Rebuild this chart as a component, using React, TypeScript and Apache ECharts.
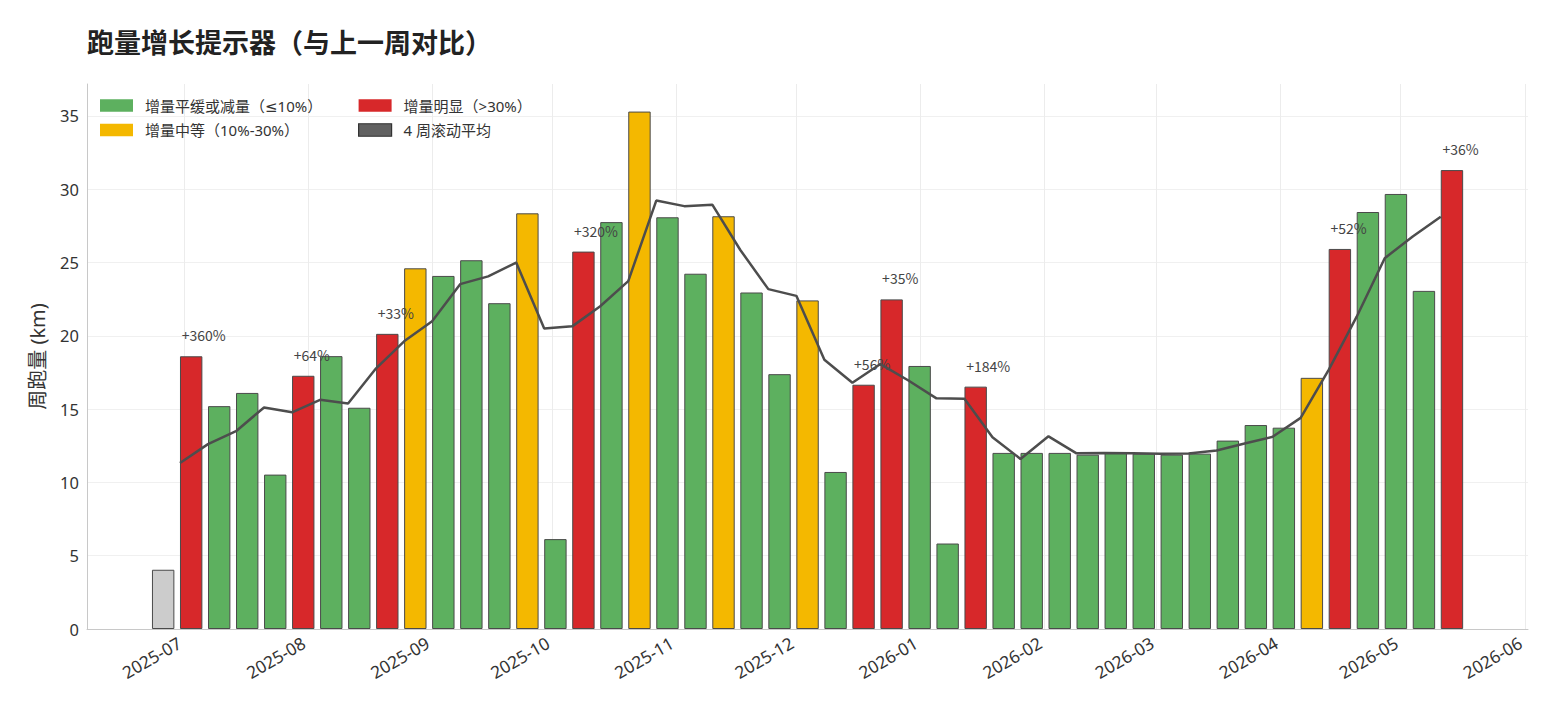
import React, { useEffect, useRef } from 'react';
import * as echarts from 'echarts';

// ---- data ----
const weekStarts = [
  '2025-06-23', '2025-06-30', '2025-07-07', '2025-07-14', '2025-07-21', '2025-07-28',
  '2025-08-04', '2025-08-11', '2025-08-18', '2025-08-25', '2025-09-01', '2025-09-08',
  '2025-09-15', '2025-09-22', '2025-09-29', '2025-10-06', '2025-10-13', '2025-10-20',
  '2025-10-27', '2025-11-03', '2025-11-10', '2025-11-17', '2025-11-24', '2025-12-01',
  '2025-12-08', '2025-12-15', '2025-12-22', '2025-12-29', '2026-01-05', '2026-01-12',
  '2026-01-19', '2026-01-26', '2026-02-02', '2026-02-09', '2026-02-16', '2026-02-23',
  '2026-03-02', '2026-03-09', '2026-03-16', '2026-03-23', '2026-03-30', '2026-04-06',
  '2026-04-13', '2026-04-20', '2026-04-27', '2026-05-04', '2026-05-11',
];

const weeklyKm = [
  4.04, 18.6, 15.2, 16.1, 10.53, 17.27,
  18.61, 15.09, 20.13, 24.6, 24.08, 25.15,
  22.22, 28.35, 6.13, 25.74, 27.75, 35.29,
  28.08, 24.23, 28.15, 22.95, 17.38, 22.41,
  10.71, 16.66, 22.48, 17.94, 5.83, 16.53,
  12.01, 12.01, 12.01, 11.89, 12.07, 11.96,
  11.89, 11.96, 12.85, 13.91, 13.73, 17.13,
  25.92, 28.44, 29.67, 23.06, 31.3,
];

// base = first week (no comparison), low = ≤10%, mid = 10%-30%, high = >30%
const weekClass = [
  'base', 'high', 'low', 'low', 'low', 'high',
  'low', 'low', 'high', 'mid', 'low', 'low',
  'low', 'mid', 'low', 'high', 'low', 'mid',
  'low', 'low', 'mid', 'low', 'low', 'mid',
  'low', 'high', 'high', 'low', 'low', 'high',
  'low', 'low', 'low', 'low', 'low', 'low',
  'low', 'low', 'low', 'low', 'low', 'mid',
  'high', 'low', 'low', 'low', 'high',
];

const growthLabels = [
  '', '+360%', '', '', '', '+64%',
  '', '', '+33%', '', '', '',
  '', '', '', '+320%', '', '',
  '', '', '', '', '', '',
  '', '+56%', '+35%', '', '', '+184%',
  '', '', '', '', '', '',
  '', '', '', '', '', '',
  '+52%', '', '', '', '+36%',
];

const rollingAvg: (number | null)[] = [
  null, 11.32, 12.61, 13.49, 15.11, 14.78,
  15.63, 15.38, 17.78, 19.62, 20.99, 23.52,
  24.05, 24.99, 20.5, 20.64, 22.01, 23.73,
  29.22, 28.84, 28.94, 25.85, 23.18, 22.72,
  18.36, 16.79, 18.07, 16.95, 15.73, 15.7,
  13.08, 11.6, 13.14, 11.98, 12.0, 11.98,
  11.95, 11.97, 12.17, 12.65, 13.11, 14.4,
  17.67, 21.3, 25.29, 26.77, 28.12,
];

const NAME_LOW = '增量平缓或减量（≤10%）';
const NAME_MID = '增量中等（10%-30%）';
const NAME_HIGH = '增量明显（>30%）';
const NAME_AVG = '4 周滚动平均';
const NAME_BASE = '首周';

const TITLE = '跑量增长提示器（与上一周对比）';
const Y_NAME = '周跑量 (km)';

// ---- styles ----
const FONT = '"Noto Sans", "DejaVu Sans", "Noto Sans CJK SC", sans-serif';
const FONT_CJK = '"Noto Sans CJK SC", "Noto Sans", sans-serif';
const COLORS: Record<string, string> = {
  base: '#cccccc',
  low: '#5db05f',
  mid: '#f4b800',
  high: '#d7282a',
};
const DAY = 86400000;
const BAR_SHIFT_DAYS = 2.8;
const X_MIN = Date.UTC(2025, 6, 1) - 24.23 * DAY;
const X_MAX = Date.UTC(2026, 5, 1) + 0.8 * DAY;

const toUTC = (s: string) => {
  const [y, m, d] = s.split('-').map(Number);
  return Date.UTC(y, m - 1, d);
};

export default function App() {
  const ref = useRef<HTMLDivElement>(null);

  useEffect(() => {
    if (!ref.current) return;
    const chart = echarts.init(ref.current, null, { renderer: 'svg' });
    const times = weekStarts.map(toUTC);

    const barItems = (cls: string) =>
      weekStarts
        .map((_, i) => i)
        .filter((i) => weekClass[i] === cls)
        .map((i) => ({
          value: [times[i] + BAR_SHIFT_DAYS * DAY, weeklyKm[i]],
          name: growthLabels[i],
        }));

    const barSeries = (name: string, cls: string, withLabel: boolean) => ({
      name,
      type: 'bar',
      xAxisIndex: 1,
      barWidth: 22.4,
      barGap: '-100%',
      data: barItems(cls),
      itemStyle: { color: COLORS[cls], borderColor: '#4a4a4a', borderWidth: 1 },
      label: withLabel
        ? {
            show: true,
            position: 'top',
            distance: 14,
            align: 'left',
            offset: [-9.5, 0],
            formatter: '{b}',
            fontSize: 14,
            color: '#444',
            fontFamily: FONT_CJK,
          }
        : { show: false },
      emphasis: { disabled: true },
      z: 2,
    });

    const legendText = {
      fontSize: 15,
      color: '#333',
      fontFamily: FONT,
      padding: [0, 0, 0, 7],
    };

    const option: any = {
      animation: false,
      useUTC: true,
      backgroundColor: '#ffffff',
      textStyle: { fontFamily: FONT },
      title: {
        text: TITLE,
        left: 87,
        top: 28,
        padding: 0,
        textStyle: { fontSize: 27, fontWeight: 'bold', color: '#222', fontFamily: FONT_CJK },
      },
      legend: [
        {
          orient: 'vertical',
          left: 100,
          top: 98,
          padding: 0,
          itemWidth: 33,
          itemHeight: 12.5,
          itemGap: 9.5,
          selectedMode: false,
          textStyle: legendText,
          data: [
            { name: NAME_LOW, icon: 'rect', itemStyle: { borderWidth: 0 } },
            { name: NAME_MID, icon: 'rect', itemStyle: { borderWidth: 0 } },
          ],
        },
        {
          orient: 'vertical',
          left: 358,
          top: 98,
          padding: 0,
          itemWidth: 33,
          itemHeight: 12.5,
          itemGap: 9.5,
          selectedMode: false,
          textStyle: legendText,
          data: [
            { name: NAME_HIGH, icon: 'rect', itemStyle: { borderWidth: 0 } },
            {
              name: NAME_AVG,
              icon: 'rect',
              itemStyle: { color: '#616161', borderColor: '#333333', borderWidth: 1.2 },
            },
          ],
        },
      ],
      grid: {
        left: 87,
        right: 30,
        top: 84,
        bottom: 88,
        containLabel: false,
        outerBoundsMode: 'none',
      },
      xAxis: [
        {
          type: 'time',
          min: X_MIN,
          max: X_MAX,
          splitNumber: 12,
          minInterval: 28 * DAY,
          maxInterval: 31 * DAY,
          axisLine: { show: true, lineStyle: { color: '#c8c8c8', width: 1 } },
          axisTick: { show: false },
          axisLabel: {
            formatter: '{yyyy}-{MM}',
            rotate: 30,
            fontSize: 17.2,
            color: '#333',
            margin: 20,
            align: 'right',
            verticalAlign: 'bottom',
            showMinLabel: false,
            showMaxLabel: false,
            hideOverlap: false,
            fontFamily: FONT,
          },
          splitLine: {
            show: true,
            showMinLine: false,
            showMaxLine: false,
            lineStyle: { color: '#ececec', width: 1 },
          },
        },
        {
          type: 'value',
          show: false,
          min: X_MIN,
          max: X_MAX,
          splitLine: { show: false },
        },
      ],
      yAxis: {
        type: 'value',
        min: 0,
        max: 37.17,
        interval: 5,
        name: Y_NAME,
        nameLocation: 'middle',
        nameGap: 40,
        nameTextStyle: { fontSize: 20, color: '#333', fontFamily: FONT },
        axisLine: { show: true, lineStyle: { color: '#c8c8c8', width: 1 } },
        axisTick: { show: false },
        axisLabel: {
          fontSize: 16.5,
          color: '#333',
          margin: 8,
          showMaxLabel: false,
          fontFamily: FONT,
        },
        splitLine: {
          show: true,
          showMaxLine: false,
          lineStyle: { color: '#f0f0f0', width: 1 },
        },
      },
      series: [
        barSeries(NAME_BASE, 'base', false),
        barSeries(NAME_LOW, 'low', false),
        barSeries(NAME_MID, 'mid', false),
        barSeries(NAME_HIGH, 'high', true),
        {
          name: NAME_AVG,
          type: 'line',
          xAxisIndex: 0,
          data: weekStarts
            .map((_, i) => (rollingAvg[i] == null ? null : [times[i], rollingAvg[i]]))
            .filter((d) => d !== null),
          showSymbol: false,
          symbol: 'none',
          lineStyle: { color: '#4d4d4d', width: 2.5 },
          itemStyle: { color: '#4d4d4d' },
          emphasis: { disabled: true },
          z: 5,
        },
      ],
    };

    chart.setOption(option);
    return () => chart.dispose();
  }, []);

  return (
    <div
      ref={ref}
      style={{ position: 'absolute', left: 0, top: 0, width: 1558, height: 717, background: '#fff' }}
    />
  );
}
